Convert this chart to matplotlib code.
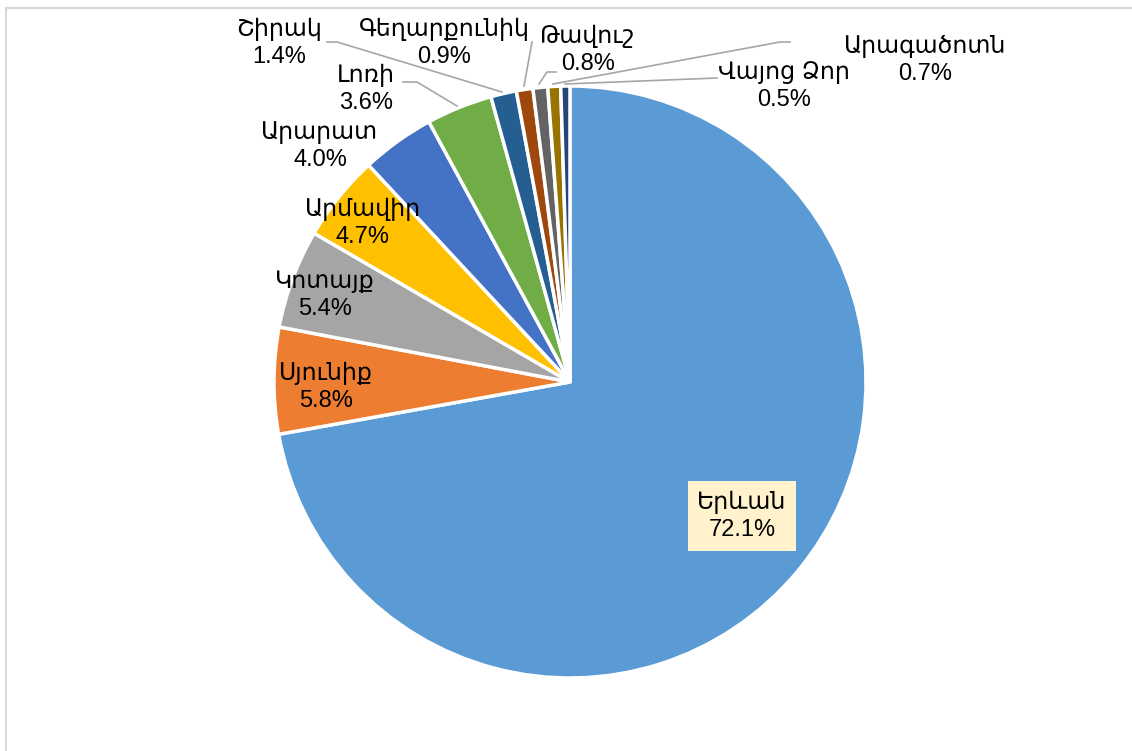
import matplotlib.pyplot as plt
from matplotlib.lines import Line2D

# Share by region, %
regions = ["Երևան", "Սյունիք", "Կոտայք", "Արմավիր", "Արարատ", "Լոռի",
           "Շիրակ", "Գեղարքունիկ", "Թավուշ", "Արագածոտն", "Վայոց Ձոր"]
shares = [72.1, 5.8, 5.4, 4.7, 4.0, 3.6, 1.4, 0.9, 0.8, 0.7, 0.5]
colors = ["#5B9BD5", "#ED7D31", "#A5A5A5", "#FFC000", "#4472C4", "#70AD47",
          "#255E91", "#9E480E", "#636363", "#997300", "#264478"]

FONT = ["Liberation Sans", "DejaVu Sans"]
W, H = 1132, 751

# label centres (pixels, top-left origin) and leader lines
label_pos = {
    0: (742, 516), 1: (326, 387), 2: (325, 295), 3: (363, 223), 4: (320, 146),
    5: (366, 89), 6: (279, 43), 7: (444, 43), 8: (588, 50), 9: (925, 60),
    10: (784, 86),
}
leaders = {
    5: [(403, 82), (417, 82), (457, 106)],
    6: [(327, 42), (337, 42), (502, 92)],
    7: [(532, 42), (524, 86)],
    8: [(556, 72), (547, 72), (539, 84)],
    9: [(790, 42), (780, 42), (553, 84)],
    10: [(717, 78), (565, 84)],
}

fig = plt.figure(figsize=(W / 100, H / 100), dpi=100)
ax = fig.add_axes([0, 0, 1, 1])

ax.pie(shares, colors=colors, startangle=90, counterclock=False,
       center=(570, H - 382), radius=296,
       wedgeprops=dict(edgecolor="white", linewidth=2.5))
ax.set_xlim(0, W)
ax.set_ylim(0, H)
ax.set_aspect("equal")
ax.axis("off")

for i, pts in leaders.items():
    xs = [p[0] for p in pts]
    ys = [H - p[1] for p in pts]
    ax.plot(xs, ys, color="#A6A6A6", lw=1.2, zorder=3)

for i, (name, val) in enumerate(zip(regions, shares)):
    x, y = label_pos[i]
    bbox = None
    if i == 0:
        bbox = dict(boxstyle="square,pad=0.4", facecolor="#FFF2CC", edgecolor="none")
    ax.text(x, H - y, f"{name}\n{val:.1f}%", ha="center", va="center",
            multialignment="center", fontsize=17, family=FONT,
            linespacing=1.3, color="#000000", bbox=bbox, zorder=4)

# light frame at top and left
fig.add_artist(Line2D([6 / W, 1], [1 - 8 / H, 1 - 8 / H], color="#D9D9D9", lw=1.5))
fig.add_artist(Line2D([6 / W, 6 / W], [0, 1 - 8 / H], color="#D9D9D9", lw=1.5))

fig.savefig("out.png", dpi=100)
